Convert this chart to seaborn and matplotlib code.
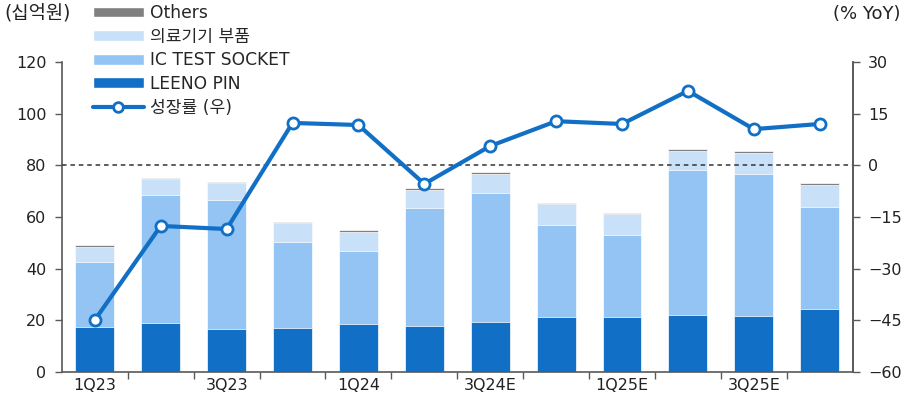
import numpy as np
import pandas as pd
import matplotlib
matplotlib.use("Agg")
import matplotlib.pyplot as plt
import seaborn as sns
from matplotlib.patches import Patch
from matplotlib.lines import Line2D

quarters = ["1Q23", "2Q23", "3Q23", "4Q23", "1Q24", "2Q24", "3Q24E", "4Q24E",
            "1Q25E", "2Q25E", "3Q25E", "4Q25E"]
tick_labels = ["1Q23", "3Q23", "1Q24", "3Q24E", "1Q25E", "3Q25E"]
leeno_pin = [17.5, 19.1, 16.8, 16.9, 18.7, 17.9, 19.4, 21.3, 21.3, 21.9, 21.7, 24.4]
ic_socket = [25.2, 49.4, 49.8, 33.5, 28.3, 45.7, 49.9, 35.5, 31.7, 56.2, 55.1, 39.6]
medical = [5.8, 6.1, 6.4, 7.1, 7.3, 6.9, 7.5, 8.1, 8.0, 7.5, 8.0, 8.5]
others = [0.6, 0.6, 0.5, 0.7, 0.7, 0.6, 0.6, 0.6, 0.6, 0.7, 0.7, 0.6]
growth = [-44.9, -17.6, -18.5, 12.3, 11.7, -5.4, 5.6, 12.8, 12.0, 21.6, 10.5, 12.0]

sns.set_theme(style="white")
plt.rcParams["font.family"] = ["DejaVu Sans", "Noto Sans CJK KR"]

c_leeno = "#1170C6"
c_ic = "#93C4F3"
c_med = "#C8E1F9"
c_oth = "#808080"
c_axis = "#595959"
c_text = "#222222"

df = pd.DataFrame({"q": quarters, "leeno": leeno_pin, "ic": ic_socket,
                   "med": medical, "oth": others})
df["c1"] = df["leeno"]
df["c2"] = df["c1"] + df["ic"]
df["c3"] = df["c2"] + df["med"]
df["c4"] = df["c3"] + df["oth"]

fig = plt.figure(figsize=(9.1, 4.05), dpi=100)
ax = fig.add_axes([0.068, 0.0815, 0.869, 0.7655])

for col, color in [("c4", c_oth), ("c3", c_med), ("c2", c_ic), ("c1", c_leeno)]:
    sns.barplot(data=df, x="q", y=col, color=color, width=0.59, ax=ax,
                edgecolor="white", linewidth=0.5, saturation=1, order=quarters)

ax.set_xlim(-0.5, 11.5)
ax.set_ylim(0, 120)
ax.set_yticks(np.arange(0, 121, 20))
ax.set_xlabel("")
ax.set_ylabel("")
ax.set_xticks(np.arange(0.5, 11.0, 1.0))
ax.set_xticklabels([])
ax.set_xticks(np.arange(0, 12, 2), minor=True)
ax.set_xticklabels(tick_labels, minor=True)
ax.tick_params(axis="x", which="major", length=5, width=1, color=c_axis, direction="out", bottom=True)
ax.tick_params(axis="x", which="minor", length=0, labelsize=11.5, pad=4, colors=c_text)
ax.tick_params(axis="y", length=5, width=1, color=c_axis, direction="out", left=True,
               labelsize=11.5, labelcolor=c_text, pad=6)
ax.spines["top"].set_visible(False)
for s in ["left", "bottom", "right"]:
    ax.spines[s].set_color(c_axis)
    ax.spines[s].set_linewidth(1.2)

ax2 = ax.twinx()
x = np.arange(len(quarters))
ax2.axhline(0, color="#333333", linestyle=(0, (3, 2.5)), linewidth=1.1, zorder=1)
sns.lineplot(x=x, y=growth, ax=ax2, color=c_leeno, linewidth=3, marker="o",
             markersize=8, markerfacecolor="white", markeredgecolor=c_leeno,
             markeredgewidth=2, zorder=3)
ax2.set_ylim(-60, 30)
ax2.set_yticks(np.arange(-60, 31, 15))
ax2.set_xlim(-0.5, 11.5)
ax2.tick_params(axis="y", length=5, width=1, color=c_axis, direction="out", right=True,
                labelsize=11.5, labelcolor=c_text, pad=6)
ax2.set_ylabel("")
for s in ["top", "left", "bottom"]:
    ax2.spines[s].set_visible(False)
ax2.spines["right"].set_color(c_axis)
ax2.spines["right"].set_linewidth(1.2)

fig.text(0.005, 0.965, "(십억원)", fontsize=13.5, color=c_text, ha="left", va="center")
fig.text(0.99, 0.965, "(% YoY)", fontsize=13, color=c_text, ha="right", va="center")

handles = [Patch(facecolor=c_oth), Patch(facecolor=c_med), Patch(facecolor=c_ic),
           Patch(facecolor=c_leeno),
           Line2D([0], [0], color=c_leeno, linewidth=3, marker="o", markersize=7,
                  markerfacecolor="white", markeredgecolor=c_leeno, markeredgewidth=2)]
labels = ["Others", "의료기기 부품", "IC TEST SOCKET", "LEENO PIN", "성장률 (우)"]
fig.legend(handles, labels, loc="upper left", bbox_to_anchor=(0.0945, 1.007),
           frameon=False, fontsize=12.3, handlelength=3.0, handleheight=0.6,
           handletextpad=0.35, labelspacing=0.33, borderaxespad=0)

fig.savefig("out.png", dpi=100)
